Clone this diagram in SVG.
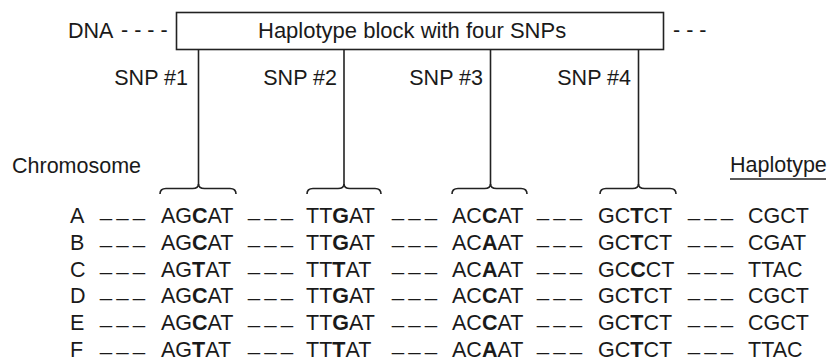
<svg xmlns="http://www.w3.org/2000/svg" width="830" height="362" viewBox="0 0 830 362">
<style>
text{font-family:"Liberation Sans",Arial,Helvetica,sans-serif;font-size:21.5px;fill:#1a1a1a}
.title{font-size:22px}
.b{font-weight:bold}
.dash{letter-spacing:4.5px}
.ln{stroke:#222;stroke-width:1.6;fill:none}
</style>
<rect width="830" height="362" fill="#fff"/>
<g id="block">
<rect class="ln" x="176.5" y="12.5" width="487" height="37" fill="#fff"/>
<text class="title" x="258" y="38">Haplotype block with four SNPs</text>
</g>
<g id="dna">
<text x="68" y="38">DNA</text>
<text x="121" y="37">- - - -</text>
<text x="673" y="37">- - -</text>
</g>
<g id="snp1"><text x="188" y="85" text-anchor="end">SNP #1</text></g>
<g id="snp2"><text x="337" y="85" text-anchor="end">SNP #2</text></g>
<g id="snp3"><text x="483" y="85" text-anchor="end">SNP #3</text></g>
<g id="snp4"><text x="631" y="85" text-anchor="end">SNP #4</text></g>
<g id="connectors">
<line class="ln" x1="198.5" y1="49.5" x2="198.5" y2="185"/>
<line class="ln" x1="344" y1="49.5" x2="344" y2="185"/>
<line class="ln" x1="490.5" y1="49.5" x2="490.5" y2="185"/>
<line class="ln" x1="638.5" y1="49.5" x2="638.5" y2="185"/>
<path class="ln" d="M160,194 Q160,188.5 166,188.5 L192.5,188.5 Q198.5,188.5 198.5,184 Q198.5,188.5 204.5,188.5 L230,188.5 Q236,188.5 236,194"/>
<path class="ln" d="M307,194 Q307,188.5 313,188.5 L338,188.5 Q344,188.5 344,184 Q344,188.5 350,188.5 L375,188.5 Q381,188.5 381,194"/>
<path class="ln" d="M452,194 Q452,188.5 458,188.5 L484.5,188.5 Q490.5,188.5 490.5,184 Q490.5,188.5 496.5,188.5 L521,188.5 Q527,188.5 527,194"/>
<path class="ln" d="M600,194 Q600,188.5 606,188.5 L632.5,188.5 Q638.5,188.5 638.5,184 Q638.5,188.5 644.5,188.5 L670,188.5 Q676,188.5 676,194"/>
</g>
<g id="headers">
<text x="12" y="173">Chromosome</text>
<text x="730" y="172">Haplotype</text>
<line x1="730" y1="179" x2="826" y2="179" stroke="#222" stroke-width="1.6"/>
</g>
<g id="rowA">
<text y="223.3"><tspan x="70">A</tspan><tspan x="161">AG<tspan class="b">C</tspan>AT</tspan><tspan x="306">TT<tspan class="b">G</tspan>AT</tspan><tspan x="452">AC<tspan class="b">C</tspan>AT</tspan><tspan x="598">GC<tspan class="b">T</tspan>CT</tspan><tspan x="748">CGCT</tspan></text>
<text class="dash" y="216.3"><tspan x="100">___</tspan><tspan x="248">___</tspan><tspan x="392">___</tspan><tspan x="537">___</tspan><tspan x="688">___</tspan></text>
</g>
<g id="rowB">
<text y="250"><tspan x="70">B</tspan><tspan x="161">AG<tspan class="b">C</tspan>AT</tspan><tspan x="306">TT<tspan class="b">G</tspan>AT</tspan><tspan x="452">AC<tspan class="b">A</tspan>AT</tspan><tspan x="598">GC<tspan class="b">T</tspan>CT</tspan><tspan x="748">CGAT</tspan></text>
<text class="dash" y="243"><tspan x="100">___</tspan><tspan x="248">___</tspan><tspan x="392">___</tspan><tspan x="537">___</tspan><tspan x="688">___</tspan></text>
</g>
<g id="rowC">
<text y="276.7"><tspan x="70">C</tspan><tspan x="161">AG<tspan class="b">T</tspan>AT</tspan><tspan x="306">TT<tspan class="b">T</tspan>AT</tspan><tspan x="452">AC<tspan class="b">A</tspan>AT</tspan><tspan x="598">GC<tspan class="b">C</tspan>CT</tspan><tspan x="748">TTAC</tspan></text>
<text class="dash" y="269.7"><tspan x="100">___</tspan><tspan x="248">___</tspan><tspan x="392">___</tspan><tspan x="537">___</tspan><tspan x="688">___</tspan></text>
</g>
<g id="rowD">
<text y="303.3"><tspan x="70">D</tspan><tspan x="161">AG<tspan class="b">C</tspan>AT</tspan><tspan x="306">TT<tspan class="b">G</tspan>AT</tspan><tspan x="452">AC<tspan class="b">C</tspan>AT</tspan><tspan x="598">GC<tspan class="b">T</tspan>CT</tspan><tspan x="748">CGCT</tspan></text>
<text class="dash" y="296.3"><tspan x="100">___</tspan><tspan x="248">___</tspan><tspan x="392">___</tspan><tspan x="537">___</tspan><tspan x="688">___</tspan></text>
</g>
<g id="rowE">
<text y="330"><tspan x="70">E</tspan><tspan x="161">AG<tspan class="b">C</tspan>AT</tspan><tspan x="306">TT<tspan class="b">G</tspan>AT</tspan><tspan x="452">AC<tspan class="b">C</tspan>AT</tspan><tspan x="598">GC<tspan class="b">T</tspan>CT</tspan><tspan x="748">CGCT</tspan></text>
<text class="dash" y="323"><tspan x="100">___</tspan><tspan x="248">___</tspan><tspan x="392">___</tspan><tspan x="537">___</tspan><tspan x="688">___</tspan></text>
</g>
<g id="rowF">
<text y="356.7"><tspan x="70">F</tspan><tspan x="161">AG<tspan class="b">T</tspan>AT</tspan><tspan x="306">TT<tspan class="b">T</tspan>AT</tspan><tspan x="452">AC<tspan class="b">A</tspan>AT</tspan><tspan x="598">GC<tspan class="b">T</tspan>CT</tspan><tspan x="748">TTAC</tspan></text>
<text class="dash" y="349.7"><tspan x="100">___</tspan><tspan x="248">___</tspan><tspan x="392">___</tspan><tspan x="537">___</tspan><tspan x="688">___</tspan></text>
</g>
</svg>
